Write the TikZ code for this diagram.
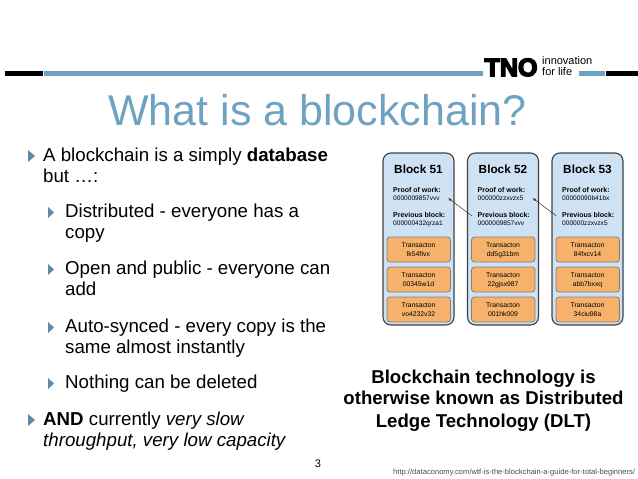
\documentclass[tikz,border=0pt]{standalone}
\usepackage{fontspec}
\usetikzlibrary{arrows.meta}
\setmainfont{Liberation Sans}
\newfontfamily\tnofont[FakeBold=6]{Liberation Sans Bold}
\definecolor{tnoblue}{HTML}{6EA2C2}
\definecolor{blockfill}{HTML}{CFE2F3}
\definecolor{txfill}{HTML}{F6B26B}
\tikzset{
    txt/.style={anchor=base west,inner sep=0,font=\fontsize{#1}{#1}\selectfont},
    ctxt/.style={anchor=base,inner sep=0,font=\fontsize{#1}{#1}\selectfont},
    btxt/.style={font=\bfseries\fontsize{#1}{#1}\selectfont},
    blockbox/.style={draw=black!75,line width=1.1pt,fill=blockfill,rounded corners=8pt},
    txbox/.style={draw=black!50,line width=0.8pt,fill=txfill,rounded corners=3pt},
    bullet/.style={fill=tnoblue!85!black},
    link/.style={-{Latex[length=3.5pt,width=2.5pt]},black!80,line width=0.5pt}
}
\begin{document}
\begin{tikzpicture}[x=1pt,y=-1pt]
    \useasboundingbox (0,0) rectangle (638,479);
    % top bar
    \fill (5,71) rectangle (43,76);
    \fill[tnoblue] (44,71) rectangle (483,76);
    \fill[tnoblue] (579,71) rectangle (605,76);
    \fill (606,71) rectangle (638,76);
    \node[anchor=base west,inner sep=0,font=\tnofont\fontsize{25}{25}\selectfont] (tno) at (484.5,76) {TNO};
    \node[txt=11,align=left,font=\fontsize{11}{11}\selectfont] (tagline) at (542,75.5) {innovation\\for life};
    \node[ctxt=43,text=tnoblue] (title) at (317.5,125) {What is a blockchain?};
    % bullets, left column
    \foreach \n/\x/\y/\t in {
        a/43/161/{A blockchain is a simply \textbf{database}},
        b/43/182/{but \dots:},
        c/65/217/{Distributed - everyone has a},
        d/65/238/{copy},
        e/65/274/{Open and public - everyone can},
        f/65/295/{add},
        g/65/332/{Auto-synced - every copy is the},
        h/65/353/{same almost instantly},
        i/65/388/{Nothing can be deleted},
        j/43/425/{\textbf{AND} currently \textit{very slow}},
        k/43/446/{\textit{throughput, very low capacity}}}
        \node[txt=18.7] (line\n) at (\x,\y) {\t};
    \foreach \y in {161,425}
        \fill[bullet] (28,\y-11) -- (35,\y-5) -- (28,\y+1) -- cycle;
    \foreach \y in {217,274,332,388}
        \fill[bullet] (48,\y-10) -- (54,\y-4.5) -- (48,\y+1) -- cycle;
    % blocks
    \foreach \i/\dx/\num/\hasha/\hashb/\ta/\tb/\tc in {
        1/0/51/0000009857vvv/000000432qrza1/lk54fIvx/00345w1d/vo4232v32,
        2/84.5/52/000000zzxvzx5/0000009857vvv/dd5g31bm/22gjsx987/001hk009,
        3/169/53/00000090b41bx/000000zzxvzx5/84fxcv14/abb7bxxq/34ciu98a}{
        \draw[blockbox] (383+\dx,153) rectangle (454+\dx,325);
        \node[ctxt=12,btxt=11.8] (head\i) at (418.5+\dx,173) {Block \num};
        \node[txt=7,btxt=7] (proof\i) at (393+\dx,192.5) {Proof of work:};
        \node[txt=6.6] (phash\i) at (393+\dx,200.5) {\hasha};
        \node[txt=7,btxt=7] (prev\i) at (393+\dx,217) {Previous block:};
        \node[txt=6.6] (bhash\i) at (393+\dx,225) {\hashb};
        \foreach \j/\t/\y in {1/\ta/237,2/\tb/267,3/\tc/297}{
            \draw[txbox] (387+\dx,\y) rectangle (450.5+\dx,\y+25);
            \node[ctxt=6.8] (tx\i\j) at (418.5+\dx,\y+10) {Transacton};
            \node[ctxt=6.8] (id\i\j) at (418.5+\dx,\y+19) {\t};
        }
    }
    \coordinate (tip1) at (448,198);
    \coordinate (tip2) at (532.5,198);
    \coordinate (tail2) at (472,216);
    \coordinate (tail3) at (556.5,216);
    \draw[link] (tail2) -- (tip1);
    \draw[link] (tail3) -- (tip2);
    % right column
    \foreach \n/\y/\t in {a/383/Blockchain technology is,b/404.5/otherwise known as Distributed,c/427/Ledge Technology (DLT)}
        \node[ctxt=18,btxt=18.6] (dlt\n) at (483.5,\y) {\t};
    \node[ctxt=11] (page) at (318,467) {3};
    \node[txt=7.6,text=black!70] (url) at (393,474) {http://dataconomy.com/wtf-is-the-blockchain-a-guide-for-total-beginners/};
\end{tikzpicture}
\end{document}
